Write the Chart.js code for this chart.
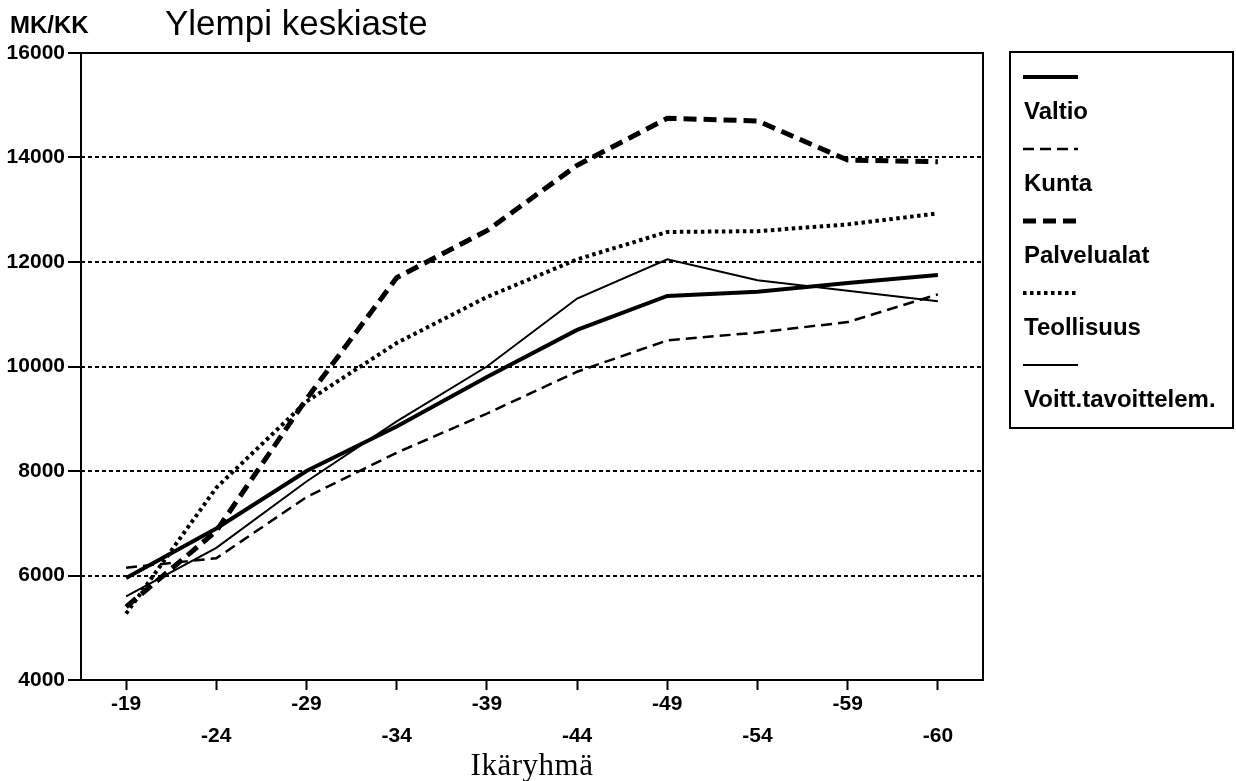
<!DOCTYPE html>
<html lang="fi">
<head>
  <meta charset="UTF-8">
  <title>Ylempi keskiaste</title>
  <script src="https://cdn.jsdelivr.net/npm/chart.js"></script>
  <style>
    html, body { margin: 0; padding: 0; background: #fff; }
    #wrap { width: 1236px; height: 781px; }
  </style>
</head>
<body>
  <div id="wrap"><canvas id="chart" width="1236" height="781"></canvas></div>
  <script>
    // Age groups and monthly salaries (mk/kk)
    const ageGroups = ['-19', '-24', '-29', '-34', '-39', '-44', '-49', '-54', '-59', '-60'];
    const valtio = [5950, 6900, 8000, 8850, 9800, 10700, 11350, 11430, 11600, 11750];
    const kunta = [6150, 6330, 7500, 8350, 9100, 9900, 10500, 10650, 10850, 11380];
    const palvelualat = [5400, 6850, 9380, 11700, 12600, 13850, 14750, 14700, 13950, 13920];
    const teollisuus = [5270, 7680, 9330, 10450, 11330, 12050, 12575, 12590, 12720, 12930];
    const voitt = [5600, 6530, 7800, 8950, 10000, 11300, 12050, 11650, 11450, 11250];
    const yTicks = [4000, 6000, 8000, 10000, 12000, 14000, 16000];

    const sans = '"Liberation Sans", Arial, sans-serif';
    const serif = '"Liberation Serif", "Times New Roman", serif';

    const series = [
      { label: 'Valtio', data: valtio, width: 4, dash: [] },
      { label: 'Kunta', data: kunta, width: 2.5, dash: [11, 6] },
      { label: 'Palvelualat', data: palvelualat, width: 5, dash: [13, 7] },
      { label: 'Teollisuus', data: teollisuus, width: 4, dash: [3.5, 3.5] },
      { label: 'Voitt.tavoittelem.', data: voitt, width: 2, dash: [] }
    ];

    // draws title, unit, axis name, frame and the boxed legend
    const extras = {
      id: 'extras',
      afterDraw(chart) {
        const ctx = chart.ctx;
        const a = chart.chartArea;
        ctx.save();
        ctx.fillStyle = '#000';
        ctx.strokeStyle = '#000';
        ctx.textBaseline = 'alphabetic';
        ctx.textAlign = 'left';
        ctx.font = '35px ' + sans;
        ctx.fillText('Ylempi keskiaste', 165, 35);
        ctx.font = 'bold 24px ' + sans;
        ctx.fillText('MK/KK', 10, 33);
        ctx.textAlign = 'center';
        ctx.letterSpacing = '0.5px';
        ctx.font = '31px ' + serif;
        ctx.fillText('Ikäryhmä', (a.left + a.right) / 2, 775);
        ctx.letterSpacing = '0px';

        // frame
        ctx.lineWidth = 2;
        ctx.setLineDash([]);
        ctx.strokeRect(a.left, a.top, a.right - a.left, a.bottom - a.top);

        // legend box
        ctx.strokeRect(1010, 52, 223, 376);
        ctx.textAlign = 'left';
        ctx.textBaseline = 'middle';
        ctx.font = 'bold 24px ' + sans;
        chart.data.datasets.forEach((ds, i) => {
          const y = 77 + i * 72;
          ctx.beginPath();
          ctx.lineWidth = ds.borderWidth;
          ctx.setLineDash(ds.borderDash);
          ctx.moveTo(1023, y);
          ctx.lineTo(1078, y);
          ctx.stroke();
          ctx.fillText(ds.label, 1024, y + 35);
        });
        ctx.restore();
      }
    };

    new Chart(document.getElementById('chart'), {
      type: 'line',
      data: {
        labels: ageGroups,
        datasets: series.map(s => ({
          label: s.label,
          data: s.data,
          borderColor: '#000',
          borderWidth: s.width,
          borderDash: s.dash,
          pointRadius: 0,
          fill: false,
          tension: 0
        }))
      },
      options: {
        responsive: false,
        animation: false,
        layout: { padding: { top: 53, right: 253, bottom: 0, left: 0 } },
        plugins: { legend: { display: false }, title: { display: false }, tooltip: { enabled: false } },
        scales: {
          x: {
            offset: true,
            afterFit: s => { s.height = 101; },
            border: { display: false },
            grid: { offset: false, drawOnChartArea: false, drawTicks: true, tickLength: 10, tickColor: '#000', tickWidth: 2 },
            ticks: {
              autoSkip: false, maxRotation: 0, color: '#000', padding: -2,
              font: { family: sans, size: 21, weight: 'bold', lineHeight: '32px' },
              callback: (v, i) => i % 2 === 0 ? ageGroups[i] : ['', ageGroups[i]]
            }
          },
          y: {
            min: 4000, max: 16000,
            afterFit: s => { s.width = 81; },
            afterBuildTicks: s => { s.ticks = yTicks.map(v => ({ value: v })); },
            border: { display: false, dash: [4, 3] },
            grid: {
              color: c => (c.tick && (c.tick.value === 4000 || c.tick.value === 16000)) ? 'rgba(0,0,0,0)' : '#000',
              lineWidth: 2, tickLength: 13, tickColor: '#000', tickWidth: 2, tickBorderDash: []
            },
            ticks: {
              color: '#000', padding: 3,
              font: { family: sans, size: 21, weight: 'bold' },
              callback: v => String(v)
            }
          }
        }
      },
      plugins: [extras]
    });
  </script>
</body>
</html>
